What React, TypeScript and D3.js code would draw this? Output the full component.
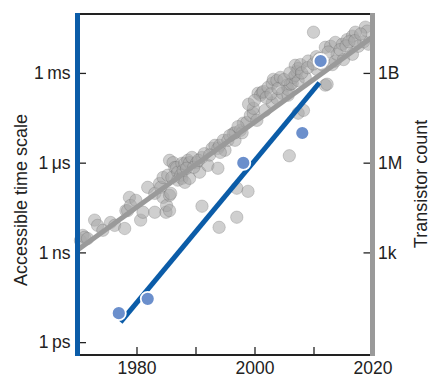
import * as d3 from 'd3'
import { useEffect, useRef } from 'react'

const WIDTH = 430
const HEIGHT = 377
const LEFT = 77.5
const RIGHT = 372.5
const TOP = 14
const BOTTOM = 355

const BLUE = '#0b5ca8'
const BLUE_DOT = '#6b8fcc'
const GREY = '#9a9a9a'
const INK = '#222'
const FONT = '"Liberation Sans", Arial, Helvetica, sans-serif'

const YEAR_TICKS = [1970, 1980, 1990, 2000, 2010, 2020]
const YEAR_LABELS = [1980, 2000, 2020]

const TIME_TICKS = [1e-12, 1e-9, 1e-6, 1e-3]
const TIME_LABELS = ['1\u2009ps', '1\u2009ns', '1\u2009\u03bcs', '1\u2009ms']
const COUNT_TICKS = [1e3, 1e6, 1e9]
const COUNT_LABELS = ['1k', '1M', '1B']

// transistor counts per chip [year, count]
const chips: [number, number][] = [
  [1970.5, 2.5e3], [1970.9, 3.7e3], [1971.2, 3.2e3], [1971.7, 2.9e3], [1972.9, 1.2e4],
  [1973.4, 8.0e3], [1974.3, 5.5e3], [1975.6, 1.0e4], [1976.3, 8.0e3], [1978.0, 6.3e3],
  [1978.2, 2.5e4], [1978.5, 2.5e4], [1978.8, 6.9e4], [1979.0, 3.7e4], [1979.9, 5.5e4],
  [1980.7, 1.2e4], [1981.1, 2.2e4], [1981.9, 1.5e5], [1983.1, 2.2e4], [1983.1, 9.4e4],
  [1983.9, 2.0e5], [1984.1, 1.5e5], [1984.5, 6.9e4], [1984.5, 3.2e5], [1985.0, 2.2e4],
  [1985.1, 3.7e4], [1985.6, 2.5e4], [1985.6, 8.1e4], [1985.8, 9.4e4], [1985.3, 3.8e5],
  [1985.6, 1.2e6], [1986.0, 3.2e5], [1986.2, 1.0e6], [1986.5, 6.9e5], [1986.8, 6.9e5],
  [1987.0, 4.8e5], [1987.0, 2.6e5], [1987.5, 3.8e5], [1987.7, 9.5e5], [1987.7, 3.0e5],
  [1987.9, 5.5e5], [1988.2, 2.2e5], [1988.2, 9.5e5], [1988.7, 1.2e6], [1989.0, 1.0e6],
  [1989.0, 3.0e5], [1989.4, 1.5e6], [1990.2, 1.0e6], [1990.7, 4.8e5], [1991.1, 1.5e6],
  [1991.1, 3.5e4], [1992.1, 8.1e5], [1992.8, 3.0e6], [1993.3, 3.8e6], [1993.8, 3.0e6],
  [1993.8, 6.5e5], [1994.0, 6.9e3], [1994.1, 3.8e6], [1994.7, 5.6e6], [1995.0, 2.6e6],
  [1995.5, 5.6e6], [1996.4, 9.5e6], [1996.7, 5.6e6], [1996.7, 1.0e7], [1997.0, 1.5e4],
  [1997.0, 1.4e5], [1997.6, 1.2e7], [1997.9, 1.0e7], [1998.1, 2.1e7], [1998.7, 2.2e7],
  [1998.9, 1.1e5], [1999.3, 3.8e7], [1999.8, 4.5e7], [1999.8, 6.6e7], [2000.4, 2.6e7],
  [2000.6, 2.1e8], [2001.0, 1.8e8], [2001.3, 2.2e8], [2001.5, 2.4e8], [2001.8, 5.6e7],
  [2002.3, 3.3e8], [2003.0, 4.5e8], [2003.0, 1.0e8], [2003.2, 6.1e8], [2003.8, 5.6e8],
  [2003.8, 1.4e8], [2004.4, 7.1e8], [2004.7, 2.1e8], [2005.5, 3.9e8], [2005.7, 1.8e8],
  [2005.7, 2.8e8], [2005.9, 1.7e6], [2006.1, 4.2e8], [2006.4, 4.5e8], [2006.6, 7.1e8],
  [2006.9, 8.3e8], [2006.9, 1.8e9], [2007.2, 1.1e9], [2007.4, 5.6e8], [2007.4, 1.4e9],
  [2007.4, 4.5e7], [2007.8, 1.9e9], [2008.3, 5.6e7], [2008.6, 7.1e8], [2009.1, 2.5e9],
  [2010.0, 2.3e10], [2010.6, 1.3e9], [2011.5, 1.9e9], [2012.0, 7.2e9], [2012.0, 3.9e8],
  [2012.3, 4.2e8], [2012.9, 7.8e9], [2013.2, 1.9e9], [2013.7, 1.05e10], [2013.7, 2.5e9],
  [2014.0, 4.2e9], [2014.9, 9.1e9], [2015.1, 2.8e9], [2015.7, 1.3e10], [2016.6, 1.7e10],
  [2016.6, 4.2e9], [2017.1, 2.3e10], [2017.6, 7.8e9], [2018.5, 1.1e10], [2018.8, 3.4e10],
  [2019.1, 2.5e10], [2019.3, 9.1e9],
  [1988.5, 6.5e5], [1989.7, 7.0e5], [1990.5, 1.2e6], [1991.5, 2.0e6], [1992.4, 1.8e6],
  [1994.2, 2.2e6], [1995.8, 8.0e6], [1997.2, 1.6e7], [1999.0, 9.0e7], [2000.0, 1.2e8],
  [2002.0, 1.5e8], [2002.8, 2.0e8], [2004.0, 3.0e8], [2005.0, 6.0e8], [2006.0, 1.0e9],
  [2008.0, 1.0e9], [2009.0, 1.5e9], [2010.0, 2.0e9], [2010.5, 3.5e9], [2011.0, 3.0e9],
  [2012.5, 5.0e9], [2014.5, 6.0e9], [2015.5, 8.0e9], [2016.0, 1.1e10], [2017.0, 1.2e10],
  [2018.0, 2.0e10],
]
const chipTrend: [number, number][] = [[1970, 1.2e3], [2020, 1.6e10]]

// accessible time scale [year, seconds]
const qubits: [number, number][] = [
  [1977.0, 9.3e-12], [1981.9, 2.8e-11], [1998.1, 9.8e-7], [2008.1, 9.8e-6], [2011.2, 2.5e-3],
]
const qubitTrend: [number, number][] = [[1977.3, 4.7e-12], [2011.0, 4.7e-4]]

function generateChart(): SVGSVGElement {
  const svg = d3
    .create('svg')
    .attr('width', WIDTH)
    .attr('height', HEIGHT)
    .attr('viewBox', [0, 0, WIDTH, HEIGHT])
    .style('position', 'absolute')
    .style('left', '0px')
    .style('top', '0px')
    .style('font-family', FONT)

  const x = d3.scaleLinear([1970, 2020], [LEFT, RIGHT])
  const yTime = d3.scaleLog([10 ** -12.43, 10 ** -1.03], [BOTTOM, TOP])
  const yCount = d3.scaleLog([10 ** -0.43, 10 ** 10.97], [BOTTOM, TOP])

  svg
    .append('g')
    .selectAll('circle')
    .data(chips)
    .join('circle')
    .attr('cx', (d) => x(d[0]))
    .attr('cy', (d) => yCount(d[1]))
    .attr('r', 6.2)
    .attr('fill', '#a8a8a8')
    .attr('fill-opacity', 0.55)
    .attr('stroke', '#555')
    .attr('stroke-opacity', 0.4)
    .attr('stroke-width', 0.6)

  const chipLine = d3.line<[number, number]>(
    (d) => x(d[0]),
    (d) => yCount(d[1]),
  )
  svg
    .append('path')
    .attr('d', chipLine(chipTrend))
    .attr('fill', 'none')
    .attr('stroke', GREY)
    .attr('stroke-width', 5)

  const qubitLine = d3.line<[number, number]>(
    (d) => x(d[0]),
    (d) => yTime(d[1]),
  )
  svg
    .append('path')
    .attr('d', qubitLine(qubitTrend))
    .attr('fill', 'none')
    .attr('stroke', BLUE)
    .attr('stroke-width', 5)

  svg
    .append('g')
    .selectAll('circle')
    .data(qubits)
    .join('circle')
    .attr('cx', (d) => x(d[0]))
    .attr('cy', (d) => yTime(d[1]))
    .attr('r', 7)
    .attr('fill', BLUE_DOT)
    .attr('stroke', '#fff')
    .attr('stroke-width', 1.8)

  const styleAxis = (g: d3.Selection<SVGGElement, undefined, null, undefined>) => {
    g.select('.domain').remove()
    g.attr('font-family', FONT).attr('font-size', 17.5)
    g.selectAll('.tick line').attr('stroke', INK).attr('stroke-width', 1.3)
    g.selectAll('.tick text').attr('fill', INK)
  }

  svg
    .append('g')
    .attr('transform', `translate(0,${BOTTOM})`)
    .call(
      d3
        .axisBottom(x)
        .tickValues(YEAR_TICKS)
        .tickFormat((d) => (YEAR_LABELS.includes(+d) ? String(d) : ''))
        .tickSize(-8)
        .tickPadding(7),
    )
    .call(styleAxis)

  svg
    .append('g')
    .attr('transform', `translate(${LEFT},0)`)
    .call(
      d3
        .axisLeft(yTime)
        .tickValues(TIME_TICKS)
        .tickFormat((_, i) => TIME_LABELS[i])
        .tickSize(-8.5)
        .tickPadding(7),
    )
    .call(styleAxis)

  svg
    .append('g')
    .attr('transform', `translate(${RIGHT},0)`)
    .call(
      d3
        .axisRight(yCount)
        .tickValues(COUNT_TICKS)
        .tickFormat((_, i) => COUNT_LABELS[i])
        .tickSize(-9)
        .tickPadding(5.5),
    )
    .call(styleAxis)

  // frame
  svg
    .append('line')
    .attr('x1', LEFT)
    .attr('x2', RIGHT)
    .attr('y1', TOP)
    .attr('y2', TOP)
    .attr('stroke', INK)
    .attr('stroke-width', 2)
  svg
    .append('line')
    .attr('x1', LEFT)
    .attr('x2', RIGHT)
    .attr('y1', BOTTOM)
    .attr('y2', BOTTOM)
    .attr('stroke', INK)
    .attr('stroke-width', 2)
  svg
    .append('line')
    .attr('x1', LEFT)
    .attr('x2', LEFT)
    .attr('y1', TOP - 1)
    .attr('y2', BOTTOM + 1)
    .attr('stroke', BLUE)
    .attr('stroke-width', 5)
  svg
    .append('line')
    .attr('x1', RIGHT)
    .attr('x2', RIGHT)
    .attr('y1', TOP - 1)
    .attr('y2', BOTTOM + 1)
    .attr('stroke', GREY)
    .attr('stroke-width', 5)

  svg
    .append('text')
    .attr('transform', `translate(27,200) rotate(-90)`)
    .attr('text-anchor', 'middle')
    .attr('font-size', 18)
    .attr('fill', INK)
    .text('Accessible time scale')
  svg
    .append('text')
    .attr('transform', `translate(427,184) rotate(-90)`)
    .attr('text-anchor', 'middle')
    .attr('font-size', 18)
    .attr('fill', INK)
    .text('Transistor count')

  return svg.node()!
}

export default function App() {
  const ref = useRef<HTMLDivElement>(null)
  useEffect(() => {
    if (!ref.current) return
    const node = generateChart()
    ref.current.appendChild(node)
    return () => {
      node.remove()
    }
  }, [])
  return <div ref={ref} />
}
